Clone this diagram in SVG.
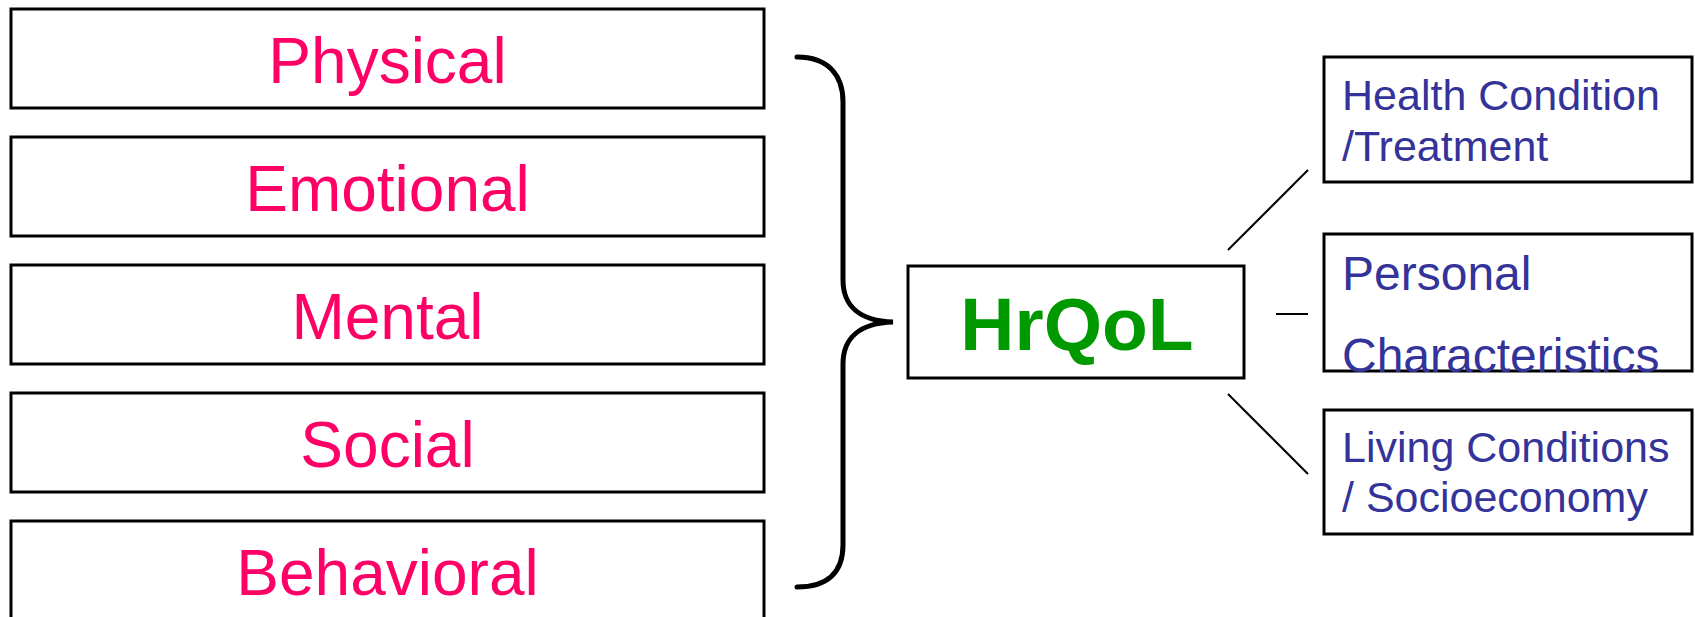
<svg xmlns="http://www.w3.org/2000/svg" width="1695" height="617" viewBox="0 0 1695 617">
  <style>
    .box { fill: #ffffff; stroke: #000000; stroke-width: 3; }
    .dim { font-family: "Liberation Sans", Arial, sans-serif; font-size: 64px; fill: #ff0066; text-anchor: middle; }
    .core { font-family: "Liberation Sans", Arial, sans-serif; font-size: 75px; font-weight: bold; fill: #009900; text-anchor: middle; }
    .factor { font-family: "Liberation Sans", Arial, sans-serif; font-size: 43px; fill: #333399; }
    .big { font-size: 48px; }
    .link { stroke: #000000; stroke-width: 2; fill: none; }
    .brace { stroke: #000000; stroke-width: 5; fill: none; stroke-linecap: round; }
  </style>
  <rect width="1695" height="617" fill="#ffffff"/>

  <!-- health dimensions -->
  <g id="physical">
    <rect class="box" x="11" y="9" width="753" height="99"/>
    <text class="dim" x="387.5" y="83">Physical</text>
  </g>
  <g id="emotional">
    <rect class="box" x="11" y="137" width="753" height="99"/>
    <text class="dim" x="387.5" y="211">Emotional</text>
  </g>
  <g id="mental">
    <rect class="box" x="11" y="265" width="753" height="99"/>
    <text class="dim" x="387.5" y="339">Mental</text>
  </g>
  <g id="social">
    <rect class="box" x="11" y="393" width="753" height="99"/>
    <text class="dim" x="387.5" y="467">Social</text>
  </g>
  <g id="behavioral">
    <rect class="box" x="11" y="521" width="753" height="99"/>
    <text class="dim" x="387.5" y="595">Behavioral</text>
  </g>

  <!-- central concept -->
  <g id="hrqol">
    <rect class="box" x="908" y="266" width="336" height="112"/>
    <text class="core" x="1077" y="350">HrQoL</text>
  </g>

  <!-- determinants -->
  <g id="health-condition">
    <rect class="box" x="1324" y="57" width="368" height="125"/>
    <text class="factor" x="1342" y="110">Health Condition</text>
    <text class="factor" x="1342" y="161">/Treatment</text>
  </g>
  <g id="personal">
    <rect class="box" x="1324" y="234" width="368" height="137"/>
    <text class="factor big" x="1342" y="290">Personal</text>
    <text class="factor big" x="1342" y="372">Characteristics</text>
  </g>
  <g id="living-conditions">
    <rect class="box" x="1324" y="410" width="368" height="124"/>
    <text class="factor" x="1342" y="462">Living Conditions</text>
    <text class="factor" x="1342" y="512">/ Socioeconomy</text>
  </g>

  <!-- connectors -->
  <g id="connectors">
    <path class="brace" d="M797,57 C828,57 843,75 843,102 L843,280 C843,306 860,321 893,322 C860,323 843,338 843,364 L843,545 C843,572 828,587 797,587"/>
    <line class="link" x1="1228" y1="250" x2="1308" y2="170"/>
    <line class="link" x1="1276" y1="314" x2="1308" y2="314"/>
    <line class="link" x1="1228" y1="394" x2="1308" y2="474"/>
  </g>
</svg>
